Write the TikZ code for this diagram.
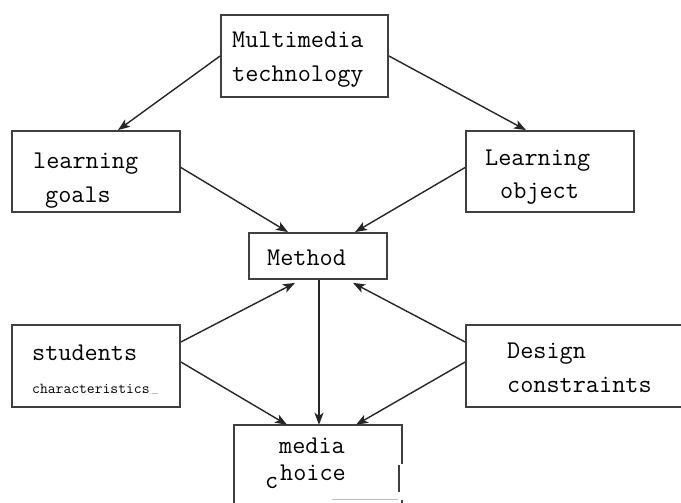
\documentclass[tikz,border=0pt]{standalone}
\usetikzlibrary{arrows.meta}
\begin{document}
\begin{tikzpicture}[x=1pt,y=-1pt,
  box/.style={draw=black!75,line width=1.8pt,inner sep=0pt,rectangle},
  lbl/.style={anchor=base west,inner sep=0pt,font=\ttfamily\fontsize{25.5}{27}\selectfont},
  small/.style={anchor=base west,inner sep=0pt,font=\ttfamily\fontsize{15.2}{17}\selectfont},
  arr/.style={draw=black!85,line width=1.4pt,-{Stealth[length=12pt,width=9pt,inset=3pt]}}]
\useasboundingbox (0,0) rectangle (681,503);
\clip (0,0) rectangle (681,503);
\fill[white] (0,0) rectangle (681,503);
% boxes
\node[box,minimum width=167pt,minimum height=82pt] (mm) at (304.5,56) {};
\node[box,minimum width=168pt,minimum height=81pt] (lg) at (96,171.5) {};
\node[box,minimum width=168pt,minimum height=81pt] (lo) at (550,171.5) {};
\node[box,minimum width=138pt,minimum height=46pt] (me) at (318,256) {};
\node[box,minimum width=168pt,minimum height=82pt] (st) at (96,366) {};
\node[box,minimum width=234pt,minimum height=82pt] (de) at (583,366) {};
\node[inner sep=0pt,minimum width=168pt,minimum height=95pt] (mc) at (318,472.5) {};
% media choice box edges (broken right edge)
\draw[black!75,line width=1.8pt] (mc.south west) -- (mc.north west) -- (mc.north east) -- ([yshift=-39pt]mc.north east);
\draw[black!75,line width=1.8pt] ([xshift=-3pt,yshift=-40pt]mc.north east) -- ([xshift=-3pt,yshift=-67pt]mc.north east);
\draw[black!75,line width=1.8pt] ([yshift=-75pt]mc.north east) -- (mc.south east);
\draw[black!25,line width=0.8pt] ([xshift=-70pt,yshift=-75pt]mc.north east) -- ([xshift=-4pt,yshift=-75pt]mc.north east);
% texts
\node[lbl] (t1) at (232,48) {Multimedia};
\node[lbl] (t2) at (232,82) {technology};
\node[lbl] (t3) at (33,168) {learning};
\node[lbl] (t4) at (45,202) {goals};
\node[lbl] (t5) at (485,165) {Learning};
\node[lbl] (t6) at (500,198) {object};
\node[lbl] (t7) at (267,265) {Method};
\node[lbl] (t8) at (32,360) {students};
\node[small] (t9) at (32,393) {characteristics};
\draw[black!25,line width=0.8pt] ([xshift=2pt]t9.base east) -- ([xshift=8pt]t9.base east);
\node[lbl] (t10) at (507,358) {Design};
\node[lbl] (t11) at (507,392) {constraints};
\node[lbl] (t12) at (279,453) {media};
\node[lbl] (t13) at (265,488) {c};
\node[lbl] (t14) at (280,480) {hoice};
% connectors
\draw[arr] (mm.west) -- ([xshift=22pt]lg.north);
\draw[arr] (mm.east) -- ([xshift=-24pt]lo.north);
\draw[arr] ([yshift=4pt]lg.east) -- ([xshift=-30pt]me.north);
\draw[arr] ([yshift=4pt]lo.west) -- ([xshift=37pt]me.north);
\draw[arr] ([xshift=1pt]me.south) -- ([xshift=1pt]mc.north);
\draw[arr] ([yshift=24pt]st.east) -- ([xshift=-23pt,yshift=-3pt]me.south);
\draw[arr] ([yshift=4pt]st.east) -- ([xshift=-31pt]mc.north);
\draw[arr] ([yshift=24pt]de.west) -- ([xshift=35pt,yshift=-3pt]me.south);
\draw[arr] ([yshift=4pt]de.west) -- ([xshift=38pt]mc.north);
\end{tikzpicture}
\end{document}
